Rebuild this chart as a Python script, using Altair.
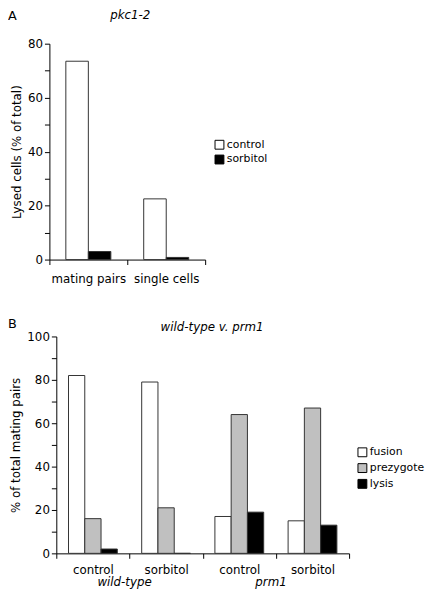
import altair as alt
import pandas as pd

FONT = "DejaVu Sans"

# ---------------- Panel A data ----------------
a_categories = ["mating pairs", "single cells"]
a_series = ["control", "sorbitol"]
a_control = [73.5, 22.5]
a_sorbitol = [3.0, 0.8]
a_colors = ["#ffffff", "#000000"]
a_title = "pkc1-2"

# ---------------- Panel B data ----------------
b_strains = ["wild-type", "wild-type", "prm1", "prm1"]
b_conditions = ["control", "sorbitol", "control", "sorbitol"]
b_series = ["fusion", "prezygote", "lysis"]
b_fusion = [82, 79, 17, 15]
b_prezygote = [16, 21, 64, 67]
b_lysis = [2, 0, 19, 13]
b_colors = ["#ffffff", "#c0c0c0", "#000000"]
b_group_labels = ["wild-type", "prm1"]
b_title = "wild-type v. prm1"

# ---------------- Build tables ----------------
rows_a = []
for i, c in enumerate(a_categories):
    rows_a.append({"catA": c, "seriesA": "control", "value": a_control[i]})
    rows_a.append({"catA": c, "seriesA": "sorbitol", "value": a_sorbitol[i]})
dfA = pd.DataFrame(rows_a)

b_keys = [f"{s}|{c}" for s, c in zip(b_strains, b_conditions)]
rows_b = []
for i, k in enumerate(b_keys):
    rows_b.append({"catB": k, "seriesB": "fusion", "value": b_fusion[i]})
    rows_b.append({"catB": k, "seriesB": "prezygote", "value": b_prezygote[i]})
    rows_b.append({"catB": k, "seriesB": "lysis", "value": b_lysis[i]})
dfB = pd.DataFrame(rows_b)

dfG = pd.DataFrame({"catB": [b_keys[1], b_keys[3]], "label": b_group_labels})

# layout (pixels)
SHIFT_A = 7            # panel A plot starts 7px left of panel B's
WA, HA = 151, 219      # group width of A (plot spans -7..151)
WB, HB = 297, 220
BAND_A = (WA + SHIFT_A) / len(a_categories)
BAND_B = WB / len(b_keys)

common_axis = dict(
    labelFont=FONT, labelFontSize=12, labelColor="#000",
    titleFont=FONT, titleFontSize=12, titleFontWeight="normal", titleColor="#000",
    domainColor="#000", tickColor="#000", tickSize=5, grid=False,
)
legend_style = dict(
    title=None, orient="none", symbolType="square", symbolSize=81,
    symbolStrokeColor="#000", symbolStrokeWidth=1,
    labelFont=FONT, labelFontSize=11, labelColor="#000",
    labelOffset=2, padding=0,
)

def text_layer(txt, italic=False, size=12, align="center"):
    return alt.Chart(pd.DataFrame({"t": [txt]})).mark_text(
        font=FONT, fontSize=size, fontStyle="italic" if italic else "normal",
        align=align, baseline="alphabetic", color="#000")

# ---------------- Panel A ----------------
xA = alt.X("catA:N", sort=a_categories,
           scale=alt.Scale(domain=a_categories, paddingInner=0, paddingOuter=0,
                           range=[-SHIFT_A, WA]),
           axis=alt.Axis(title=None, labelAngle=0, tickBand="extent", labelPadding=9,
                         **common_axis))
barsA = alt.Chart(dfA).mark_bar(stroke="#333333", strokeWidth=1).encode(
    x=xA,
    xOffset=alt.XOffset("seriesA:N", sort=a_series,
                        scale=alt.Scale(domain=a_series, paddingInner=0, paddingOuter=0.73,
                                        range=[0, BAND_A])),
    y=alt.Y("value:Q", scale=alt.Scale(domain=[0, 80], nice=False),
            axis=alt.Axis(values=list(range(0, 81, 10)), offset=SHIFT_A,
                          labelExpr="datum.value % 20 == 0 ? datum.label : ''",
                          title="Lysed cells (% of total)", **common_axis)),
    color=alt.Color("seriesA:N", sort=a_series,
                    scale=alt.Scale(domain=a_series, range=a_colors),
                    legend=alt.Legend(legendX=160, legendY=97, rowPadding=2, **legend_style)),
)
titleA = text_layer(a_title, italic=True).encode(text="t:N", x=alt.value(75), y=alt.value(-25))
letterA = text_layer("A", size=13, align="left").encode(text="t:N", x=alt.value(-49), y=alt.value(-24))

panelA = alt.layer(barsA, titleA, letterA).properties(width=WA, height=HA)

# ---------------- Panel B ----------------
xB = alt.X("catB:N", sort=b_keys,
           scale=alt.Scale(domain=b_keys, paddingInner=0, paddingOuter=0),
           axis=alt.Axis(title=None, labelAngle=0, tickBand="extent", labelPadding=6,
                         labelExpr="split(datum.label, '|')[1]", **common_axis))
barsB = alt.Chart(dfB).mark_bar(stroke="#333333", strokeWidth=1).encode(
    x=xB,
    xOffset=alt.XOffset("seriesB:N", sort=b_series,
                        scale=alt.Scale(domain=b_series, paddingInner=0, paddingOuter=0.75,
                                        range=[0, BAND_B])),
    y=alt.Y("value:Q", scale=alt.Scale(domain=[0, 100], nice=False),
            axis=alt.Axis(values=list(range(0, 101, 10)),
                          labelExpr="datum.value % 20 == 0 ? datum.label : ''",
                          title="% of total mating pairs", **common_axis)),
    color=alt.Color("seriesB:N", sort=b_series,
                    scale=alt.Scale(domain=b_series, range=b_colors),
                    legend=alt.Legend(legendX=305, legendY=112, rowPadding=3, **legend_style)),
)
groupB = alt.Chart(dfG).mark_text(
    font=FONT, fontSize=12, fontStyle="italic", align="center", baseline="alphabetic",
    color="#000", dx=-5
).encode(x=alt.X("catB:N", sort=b_keys, bandPosition=0), text="label:N",
         y=alt.value(HB + 33))
titleB = text_layer(b_title, italic=True).encode(text="t:N", x=alt.value(158), y=alt.value(-6))
letterB = text_layer("B", size=13, align="left").encode(text="t:N", x=alt.value(-49), y=alt.value(-9))

panelB = alt.layer(barsB, groupB, titleB, letterB).properties(width=WB, height=HB)

chart = alt.concat(panelA, panelB, columns=1, spacing=34).resolve_scale(
    color="independent", xOffset="independent"
).properties(
    padding={"left": 0, "top": -3, "right": 0, "bottom": 0}, background="#ffffff"
).configure_view(stroke=None)

chart.save("out.html", embed_options={"renderer": "svg", "actions": False})
